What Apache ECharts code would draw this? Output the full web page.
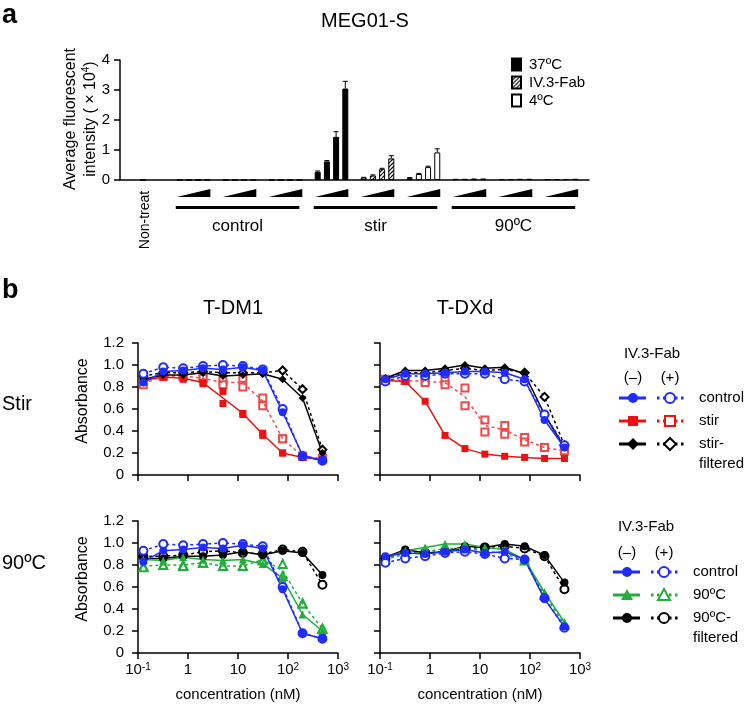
<!DOCTYPE html>
<html>
<head>
<meta charset="utf-8">
<title>MEG01-S</title>
<script src="https://cdn.jsdelivr.net/npm/echarts@6.0.0/dist/echarts.min.js"></script>
<style>
html, body { margin: 0; padding: 0; background: #fff; }
#main { width: 750px; height: 708px; }
</style>
</head>
<body>
<div id="main"></div>
<script>
var myChart = echarts.init(document.getElementById('main'));
var FONT = '"Liberation Sans", Arial, Helvetica, sans-serif';

// ---- panel a : average fluorescent intensity (x 10^4), 4 doses per condition
var nonTreat = [0.0];
var ctrl37  = [0.004, 0.005, 0.006, 0.007];
var ctrlFab = [0.003, 0.004, 0.004, 0.005];
var ctrl4   = [0.003, 0.003, 0.004, 0.004];
var stir37  = [0.27, 0.62, 1.44, 3.05];
var stirFab = [0.08, 0.15, 0.36, 0.72];
var stir4   = [0.07, 0.20, 0.43, 0.92];
var heat37  = [0.04, 0.04, 0.05, 0.05];
var heatFab = [0.03, 0.03, 0.04, 0.04];
var heat4   = [0.03, 0.03, 0.03, 0.04];
var stir37Err  = [0.03, 0.03, 0.17, 0.24];
var stirFabErr = [0.01, 0.02, 0.03, 0.09];
var stir4Err   = [0.01, 0.02, 0.03, 0.12];
var groupNames = ['control', 'stir', '90ºC'];

// ---- panel b : absorbance vs concentration (nM)
var conc = [0.128, 0.32, 0.8, 2, 5, 12.5, 31.25, 78.1, 195.3, 488.3];

// T-DM1 / stir
var dm1CtrlMinus = [0.84, 0.94, 0.95, 0.97, 0.96, 0.98, 0.95, 0.57, 0.18, 0.13];
var dm1CtrlPlus  = [0.92, 0.98, 0.97, 0.99, 1.00, 0.99, 0.96, 0.60, 0.17, 0.13];
var dm1StirMinus = [0.86, 0.89, 0.88, 0.84, 0.70, 0.56, 0.37, 0.20, 0.16, 0.14];
var dm1StirMinusA = [0.85, 0.89, 0.88, 0.83, 0.76, 0.56, 0.38, 0.20, 0.16, 0.14];
var dm1StirMinusB = [0.87, 0.89, 0.87, 0.84, 0.65, 0.55, 0.36, 0.20, 0.16, 0.14];
var dm1StirPlus  = [0.83, 0.90, 0.90, 0.88, 0.84, 0.84, 0.67, 0.33, 0.17, 0.15];
var dm1StirPlusA = [0.82, 0.90, 0.90, 0.88, 0.86, 0.88, 0.70, 0.33, 0.17, 0.15];
var dm1StirPlusB = [0.85, 0.90, 0.90, 0.88, 0.82, 0.80, 0.63, 0.33, 0.17, 0.15];
var dm1FiltMinus = [0.87, 0.91, 0.91, 0.93, 0.90, 0.91, 0.92, 0.87, 0.70, 0.20];
var dm1FiltPlus  = [0.90, 0.93, 0.93, 0.94, 0.93, 0.93, 0.93, 0.95, 0.78, 0.23];
// T-DXd / stir
var dxdCtrlMinus = [0.87, 0.92, 0.92, 0.93, 0.94, 0.94, 0.93, 0.87, 0.50, 0.25];
var dxdCtrlPlus  = [0.85, 0.90, 0.90, 0.92, 0.92, 0.92, 0.87, 0.85, 0.55, 0.27];
var dxdStirMinus = [0.86, 0.85, 0.67, 0.36, 0.24, 0.19, 0.17, 0.16, 0.15, 0.15];
var dxdStirPlus  = [0.87, 0.86, 0.85, 0.84, 0.71, 0.45, 0.41, 0.32, 0.25, 0.22];
var dxdStirPlusA = [0.87, 0.86, 0.86, 0.86, 0.79, 0.50, 0.45, 0.34, 0.25, 0.22];
var dxdStirPlusB = [0.86, 0.86, 0.84, 0.82, 0.63, 0.39, 0.37, 0.30, 0.25, 0.22];
var dxdFiltMinus = [0.88, 0.95, 0.95, 0.97, 1.00, 0.97, 0.98, 0.92, 0.55, 0.25];
var dxdFiltPlus  = [0.87, 0.93, 0.93, 0.95, 0.97, 0.95, 0.96, 0.93, 0.71, 0.27];
// T-DM1 / 90ºC
var dm1Ctrl2Minus = [0.83, 0.93, 0.94, 0.96, 0.95, 0.98, 0.95, 0.58, 0.18, 0.13];
var dm1Ctrl2Plus  = [0.93, 0.99, 0.98, 0.99, 1.00, 0.99, 0.97, 0.60, 0.18, 0.13];
var dm1HeatMinus  = [0.85, 0.84, 0.87, 0.85, 0.84, 0.85, 0.81, 0.68, 0.35, 0.20];
var dm1HeatPlus   = [0.79, 0.80, 0.80, 0.82, 0.79, 0.79, 0.85, 0.75, 0.45, 0.22];
var dm1HeatPlusA  = [0.79, 0.80, 0.80, 0.82, 0.79, 0.79, 0.85, 0.81, 0.45, 0.22];
var dm1HeatPlusB  = [0.78, 0.80, 0.79, 0.82, 0.79, 0.79, 0.84, 0.70, 0.45, 0.22];
var dm1HFiltMinus = [0.86, 0.86, 0.88, 0.88, 0.89, 0.92, 0.89, 0.93, 0.91, 0.71];
var dm1HFiltPlus  = [0.88, 0.88, 0.89, 0.92, 0.93, 0.91, 0.90, 0.94, 0.92, 0.62];
// T-DXd / 90ºC
var dxdCtrl2Minus = [0.88, 0.91, 0.90, 0.92, 0.94, 0.91, 0.92, 0.85, 0.49, 0.24];
var dxdCtrl2Plus  = [0.82, 0.86, 0.88, 0.91, 0.92, 0.90, 0.86, 0.85, 0.50, 0.23];
var dxdHeatMinus  = [0.86, 0.93, 0.96, 0.99, 0.99, 0.96, 0.94, 0.85, 0.55, 0.28];
var dxdHeatPlus   = [0.85, 0.90, 0.92, 0.95, 0.95, 0.93, 0.90, 0.84, 0.53, 0.26];
var dxdHFiltMinus = [0.87, 0.94, 0.91, 0.92, 0.97, 0.96, 0.99, 0.97, 0.89, 0.64];
var dxdHFiltPlus  = [0.86, 0.92, 0.91, 0.92, 0.95, 0.96, 0.97, 0.95, 0.88, 0.58];

var BLUE = '#1f2bff', RED = '#ee1111', RED2 = '#ee4a4a', GREEN = '#1fae3a', BLACK = '#000';

// bar slots on the category axis (4 bars + 1 gap per condition)
var NSLOT = 51;
var slotNames = [];
for (var i = 0; i < NSLOT; i++) slotNames.push(String(i));
function emptySlots() { var a = []; for (var i = 0; i < NSLOT; i++) a.push('-'); return a; }
var bar37 = emptySlots(), barFab = emptySlots(), bar4 = emptySlots();
var errData = [];
function put(target, vals, start) { vals.forEach(function (v, i) { target[start + i] = v; }); }
function putErr(vals, errs, start) { vals.forEach(function (v, i) { errData.push([start + i, v, errs[i]]); }); }
var groupStart = [6, 21, 36];
put(bar37, nonTreat, 2);
put(bar37, ctrl37, 6);  put(barFab, ctrlFab, 11); put(bar4, ctrl4, 16);
put(bar37, stir37, 21); put(barFab, stirFab, 26); put(bar4, stir4, 31);
put(bar37, heat37, 36); put(barFab, heatFab, 41); put(bar4, heat4, 46);
putErr(stir37, stir37Err, 21); putErr(stirFab, stirFabErr, 26); putErr(stir4, stir4Err, 31);

// hatch for IV.3-Fab
var hatch = document.createElement('canvas');
hatch.width = 4; hatch.height = 4;
var hg = hatch.getContext('2d');
hg.fillStyle = '#fff'; hg.fillRect(0, 0, 4, 4);
hg.strokeStyle = '#000'; hg.lineWidth = 1.2;
hg.beginPath();
hg.moveTo(0, 4); hg.lineTo(4, 0);
hg.moveTo(-1, 1); hg.lineTo(1, -1);
hg.moveTo(3, 5); hg.lineTo(5, 3);
hg.stroke();

function expLabel(v) {
  var e = Math.round(Math.log(v) / Math.LN10);
  if (e === 0) return '1';
  if (e === 1) return '10';
  return '10{sup|' + (e < 0 ? '-' + (-e) : e) + '}';
}

function bx(gi, showLabel) {
  return {
    type: 'log', logBase: 10, gridIndex: gi, min: 0.1, max: 1000,
    axisLine: { lineStyle: { color: '#000', width: 1.5 } },
    axisTick: { show: true, length: 6, lineStyle: { color: '#000', width: 1.5 } },
    axisLabel: {
      show: showLabel, color: '#000', fontSize: 15, fontFamily: FONT, margin: 9,
      formatter: expLabel,
      rich: { sup: { fontSize: 10, fontFamily: FONT, color: '#000', verticalAlign: 'top' } }
    },
    splitLine: { show: false }, minorTick: { show: false },
    name: showLabel ? 'concentration (nM)' : '', nameLocation: 'middle', nameGap: 34,
    nameTextStyle: { color: '#000', fontSize: 15, fontFamily: FONT }
  };
}
function by(gi, showLabel) {
  return {
    type: 'value', gridIndex: gi, min: 0, max: 1.2, interval: 0.2,
    axisLine: { show: true, lineStyle: { color: '#000', width: 1.5 } },
    axisTick: { show: true, length: 6, lineStyle: { color: '#000', width: 1.5 } },
    axisLabel: {
      show: showLabel, color: '#000', fontSize: 15, fontFamily: FONT, margin: 14,
      formatter: function (v) { return v === 0 ? '0' : v.toFixed(1); }
    },
    splitLine: { show: false }
  };
}
function pairs(vals) { return conc.map(function (c, i) { return [c, vals[i]]; }); }
function curve(gi, vals, color, sym, dashed, size) {
  return {
    type: 'line', xAxisIndex: gi, yAxisIndex: gi, data: pairs(vals),
    symbol: sym, symbolSize: size || 8, showSymbol: true, animation: false,
    lineStyle: { color: color, width: 1.5, type: dashed ? [3, 3] : 'solid' },
    itemStyle: { color: color, borderColor: color, borderWidth: dashed ? 1.3 : 0 }
  };
}
// line through the mean, markers at both replicates
function curveReps(gi, mean, repA, repB, color, sym, dashed, size) {
  var out = [curve(gi, mean, color, 'none', dashed, size)];
  [repA, repB].forEach(function (rep) {
    out.push({
      type: 'scatter', xAxisIndex: gi, yAxisIndex: gi, data: pairs(rep),
      symbol: sym, symbolSize: size || 8, animation: false,
      itemStyle: { color: color, borderColor: color, borderWidth: dashed ? 1.3 : 0, opacity: 1 }
    });
  });
  return out;
}

var series = [
  { name: '37ºC', type: 'bar', xAxisIndex: 0, yAxisIndex: 0, data: bar37, barWidth: 6, barGap: '-100%',
    itemStyle: { color: '#000', borderColor: '#000', borderWidth: 1 } },
  { name: 'IV.3-Fab', type: 'bar', xAxisIndex: 0, yAxisIndex: 0, data: barFab, barWidth: 6, barGap: '-100%',
    itemStyle: { color: { image: hatch, repeat: 'repeat' }, borderColor: '#000', borderWidth: 1 } },
  { name: '4ºC', type: 'bar', xAxisIndex: 0, yAxisIndex: 0, data: bar4, barWidth: 6, barGap: '-100%',
    itemStyle: { color: '#fff', borderColor: '#000', borderWidth: 1 } },
  { type: 'custom', xAxisIndex: 0, yAxisIndex: 0, data: errData, z: 5,
    renderItem: function (params, api) {
      var x = api.value(0);
      var base = api.coord([x, api.value(1)]);
      var top = api.coord([x, api.value(1) + api.value(2)]);
      return { type: 'group', children: [
        { type: 'line', shape: { x1: base[0], y1: base[1], x2: top[0], y2: top[1] }, style: { stroke: '#000', lineWidth: 1 } },
        { type: 'line', shape: { x1: top[0] - 2.5, y1: top[1], x2: top[0] + 2.5, y2: top[1] }, style: { stroke: '#000', lineWidth: 1 } }
      ] };
    } }
];
series = series.concat(
  curveReps(1, dm1StirPlus, dm1StirPlusA, dm1StirPlusB, RED2, 'emptyRect', true, 7),
  curveReps(1, dm1StirMinus, dm1StirMinusA, dm1StirMinusB, RED, 'rect', false, 7),
  [curve(1, dm1FiltPlus, BLACK, 'emptyDiamond', true, 8),
   curve(1, dm1FiltMinus, BLACK, 'diamond', false, 8),
   curve(1, dm1CtrlPlus, BLUE, 'emptyCircle', true, 8),
   curve(1, dm1CtrlMinus, BLUE, 'circle', false, 8)],

  curveReps(2, dxdStirPlus, dxdStirPlusA, dxdStirPlusB, RED2, 'emptyRect', true, 7),
  [curve(2, dxdStirMinus, RED, 'rect', false, 7),
   curve(2, dxdFiltPlus, BLACK, 'emptyDiamond', true, 8),
   curve(2, dxdFiltMinus, BLACK, 'diamond', false, 8),
   curve(2, dxdCtrlPlus, BLUE, 'emptyCircle', true, 8),
   curve(2, dxdCtrlMinus, BLUE, 'circle', false, 8)],

  [curve(3, dm1HFiltPlus, BLACK, 'emptyCircle', true, 8),
   curve(3, dm1HFiltMinus, BLACK, 'circle', false, 8)],
  curveReps(3, dm1HeatPlus, dm1HeatPlusA, dm1HeatPlusB, GREEN, 'emptyTriangle', true, 8),
  [curve(3, dm1HeatMinus, GREEN, 'triangle', false, 8),
   curve(3, dm1Ctrl2Plus, BLUE, 'emptyCircle', true, 8),
   curve(3, dm1Ctrl2Minus, BLUE, 'circle', false, 8)],

  [curve(4, dxdHFiltPlus, BLACK, 'emptyCircle', true, 8),
   curve(4, dxdHFiltMinus, BLACK, 'circle', false, 8),
   curve(4, dxdHeatPlus, GREEN, 'emptyTriangle', true, 8),
   curve(4, dxdHeatMinus, GREEN, 'triangle', false, 8),
   curve(4, dxdCtrl2Plus, BLUE, 'emptyCircle', true, 8),
   curve(4, dxdCtrl2Minus, BLUE, 'circle', false, 8)]
);

var option = {
  backgroundColor: '#fff',
  animation: false,
  textStyle: { fontFamily: FONT },
  legend: {
    data: ['37ºC', 'IV.3-Fab', '4ºC'], orient: 'vertical', left: 506, top: 52,
    itemWidth: 9, itemHeight: 12, itemGap: 3, icon: 'rect', selectedMode: false,
    textStyle: { fontSize: 15, fontFamily: FONT, color: '#000', padding: [0, 0, 0, 3] }
  },
  grid: [
    { left: 120, top: 60, width: 469, height: 120 },
    { left: 138, top: 343, width: 200, height: 132 },
    { left: 380, top: 343, width: 200, height: 132 },
    { left: 138, top: 521, width: 200, height: 132 },
    { left: 380, top: 521, width: 200, height: 132 }
  ],
  xAxis: [
    {
      type: 'category', gridIndex: 0, data: slotNames,
      axisLine: { lineStyle: { color: '#000', width: 1.5 } },
      axisTick: { show: false }, axisLabel: { show: false }
    },
    bx(1, false), bx(2, false), bx(3, true), bx(4, true)
  ],
  yAxis: [
    {
      type: 'value', gridIndex: 0, min: 0, max: 4, interval: 1,
      axisLine: { show: true, lineStyle: { color: '#000', width: 1.5 } },
      axisTick: { show: true, length: 6, lineStyle: { color: '#000', width: 1.5 } },
      axisLabel: { color: '#000', fontSize: 15, fontFamily: FONT, margin: 10 },
      splitLine: { show: false }
    },
    by(1, true), by(2, false), by(3, true), by(4, false)
  ],
  series: series
};
myChart.setOption(option);

// ---- annotations
function txt(x, y, s, size, o) {
  o = o || {};
  return {
    type: 'text', x: x, y: y, rotation: o.rot || 0, silent: true,
    style: {
      text: s, fontSize: size, fontFamily: FONT, fontWeight: o.bold ? 'bold' : 'normal',
      fill: o.color || '#000', align: o.align || 'center', verticalAlign: o.va || 'middle',
      lineHeight: o.lh, rich: o.rich
    }
  };
}
function px(slot) { return myChart.convertToPixel({ xAxisIndex: 0 }, slot); }

var ga = [];
ga.push(txt(2, 2, 'a', 27, { bold: true, align: 'left', va: 'top' }));
ga.push(txt(365, 21, 'MEG01-S', 20));
ga.push(txt(81, 119, 'Average fluorescent\nintensity ( × 10{s|4})', 16, {
  rot: Math.PI / 2, lh: 20, rich: { s: { fontSize: 10, fontFamily: FONT, verticalAlign: 'top' } }
}));
ga.push(txt(px(2) + 2, 220, 'Non-treat', 14, { rot: Math.PI / 2 }));

groupStart.forEach(function (s, g) {
  for (var k = 0; k < 3; k++) {
    var a = px(s + 5 * k) - 3, b = px(s + 5 * k + 3) + 3;
    ga.push({ type: 'polygon', silent: true, shape: { points: [[a, 197], [b, 189], [b, 197]] }, style: { fill: '#000' } });
  }
  var x0 = px(s) - 4, x1 = px(s + 13);
  ga.push({ type: 'rect', silent: true, shape: { x: x0, y: 206, width: x1 - x0, height: 3 }, style: { fill: '#000' } });
  ga.push(txt((x0 + x1) / 2, 226, groupNames[g], 17));
});

ga.push(txt(2, 277, 'b', 27, { bold: true, align: 'left', va: 'top' }));
ga.push(txt(233, 308, 'T-DM1', 20));
ga.push(txt(465, 308, 'T-DXd', 20));
ga.push(txt(2, 404, 'Stir', 20, { align: 'left' }));
ga.push(txt(2, 563, '90ºC', 20, { align: 'left' }));
ga.push(txt(83, 401, 'Absorbance', 16, { rot: Math.PI / 2 }));
ga.push(txt(83, 579, 'Absorbance', 16, { rot: Math.PI / 2 }));

function marker(shape, cx, cy, color, filled) {
  var st = { fill: filled ? color : '#fff', stroke: color, lineWidth: filled ? 0 : 2 };
  if (shape === 'circle') return { type: 'circle', silent: true, shape: { cx: cx, cy: cy, r: 5 }, style: st };
  if (shape === 'rect') return { type: 'rect', silent: true, shape: { x: cx - 5, y: cy - 5, width: 10, height: 10 }, style: st };
  if (shape === 'diamond') return { type: 'polygon', silent: true, shape: { points: [[cx, cy - 6], [cx + 6, cy], [cx, cy + 6], [cx - 6, cy]] }, style: st };
  return { type: 'polygon', silent: true, shape: { points: [[cx, cy - 6], [cx + 6, cy + 5], [cx - 6, cy + 5]] }, style: st };
}
function legendBlock(x0, yHead, ySign, rows) {
  ga.push(txt(x0 + 33, yHead, 'IV.3-Fab', 15));
  ga.push(txt(x0 + 14, ySign, '(–)', 15));
  ga.push(txt(x0 + 51, ySign, '(+)', 15));
  rows.forEach(function (r) {
    ga.push({ type: 'line', silent: true, shape: { x1: x0, y1: r.y, x2: x0 + 27, y2: r.y }, style: { stroke: r.color, lineWidth: 3 } });
    ga.push({ type: 'line', silent: true, shape: { x1: x0 + 38, y1: r.y, x2: x0 + 66, y2: r.y }, style: { stroke: r.color, lineWidth: 3, lineDash: [2.5, 3.5] } });
    ga.push(marker(r.shape, x0 + 14, r.y, r.color, true));
    ga.push(marker(r.shape, x0 + 51, r.y, r.color, false));
    ga.push(txt(x0 + 80, r.y + (r.label.indexOf('\n') > 0 ? 10 : 0), r.label, 15, { align: 'left', lh: 20 }));
  });
}
legendBlock(619, 354, 378, [
  { y: 398, color: BLUE, shape: 'circle', label: 'control' },
  { y: 421, color: RED, shape: 'rect', label: 'stir' },
  { y: 444, color: BLACK, shape: 'diamond', label: 'stir-\nfiltered' }
]);
legendBlock(613, 527, 553, [
  { y: 572, color: BLUE, shape: 'circle', label: 'control' },
  { y: 595, color: GREEN, shape: 'triangle', label: '90ºC' },
  { y: 618, color: BLACK, shape: 'circle', label: '90ºC-\nfiltered' }
]);

myChart.setOption({ graphic: ga });
</script>
</body>
</html>
